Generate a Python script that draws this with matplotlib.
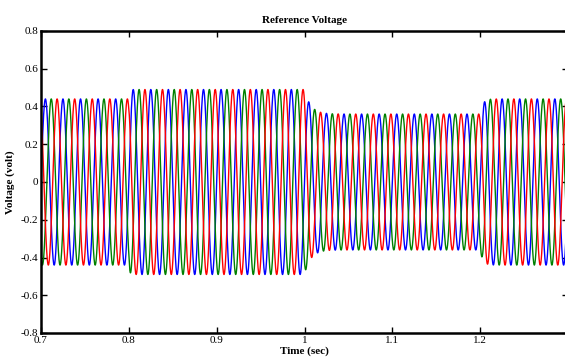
#!/usr/bin/env python3
"""Three-phase reference voltage with amplitude steps (0.7-1.3 s)."""
import numpy as np
import matplotlib
matplotlib.use("Agg")
import matplotlib.pyplot as plt

# data
freq_hz = 50.0
t_start, t_end = 0.7, 1.3
step_times = [0.8, 1.0, 1.2]          # s, where the amplitude changes
levels = [0.44, 0.49, 0.36, 0.44]      # peak voltage in each segment
step_tau = [0.001, 0.007, 0.003]       # s, how fast each change settles
phase_shift = [0.0, -2 * np.pi / 3, 2 * np.pi / 3]   # a, b, c
phase_colors = ["#0000ff", "#008000", "#ff0000"]

xticks = [0.7, 0.8, 0.9, 1.0, 1.1, 1.2, 1.3]
xticklabels = ["0.7", "0.8", "0.9", "1", "1.1", "1.2", ""]   # 1.3 falls off the picture
yticks = [-0.8, -0.6, -0.4, -0.2, 0.0, 0.2, 0.4, 0.6, 0.8]
yticklabels = ["-0.8", "-0.6", "-0.4", "-0.2", "0", "0.2", "0.4", "0.6", "0.8"]


def envelope(t):
    amp = np.full_like(t, levels[0])
    for k, ts in enumerate(step_times):
        after = t >= ts
        prev, new = levels[k], levels[k + 1]
        amp[after] = prev + (new - prev) * (1 - np.exp(-(t[after] - ts) / step_tau[k]))
    return amp


t = np.arange(t_start, t_end, 1e-5)
amp = envelope(t)

plt.rcParams["font.family"] = ["Liberation Serif", "DejaVu Serif"]

fig = plt.figure(figsize=(5.65, 3.64), dpi=100)
# right edge sits just past the picture, as in the reference
ax = fig.add_axes([41 / 565, 31 / 364, (568 - 41) / 565, (333 - 31) / 364])

for ph, col in zip(phase_shift, phase_colors):
    ax.plot(t, amp * np.sin(2 * np.pi * freq_hz * t + ph), color=col, lw=1.0)

ax.set_xlim(t_start, t_end)
ax.set_ylim(-0.8, 0.8)
ax.set_xticks(xticks)
ax.set_xticklabels(xticklabels)
ax.set_yticks(yticks)
ax.set_yticklabels(yticklabels)
ax.tick_params(direction="in", length=4, width=1, top=True, right=True,
               labelsize=8, pad=2)
for sp in ax.spines.values():
    sp.set_linewidth(1.8)

ax.set_title("Reference Voltage", fontsize=8, fontweight="bold", pad=6)
ax.set_xlabel("Time (sec)", fontsize=8, fontweight="bold", labelpad=1)
ax.set_ylabel("Voltage (volt)", fontsize=8, fontweight="bold", labelpad=4)

fig.savefig("out.png", dpi=100)
